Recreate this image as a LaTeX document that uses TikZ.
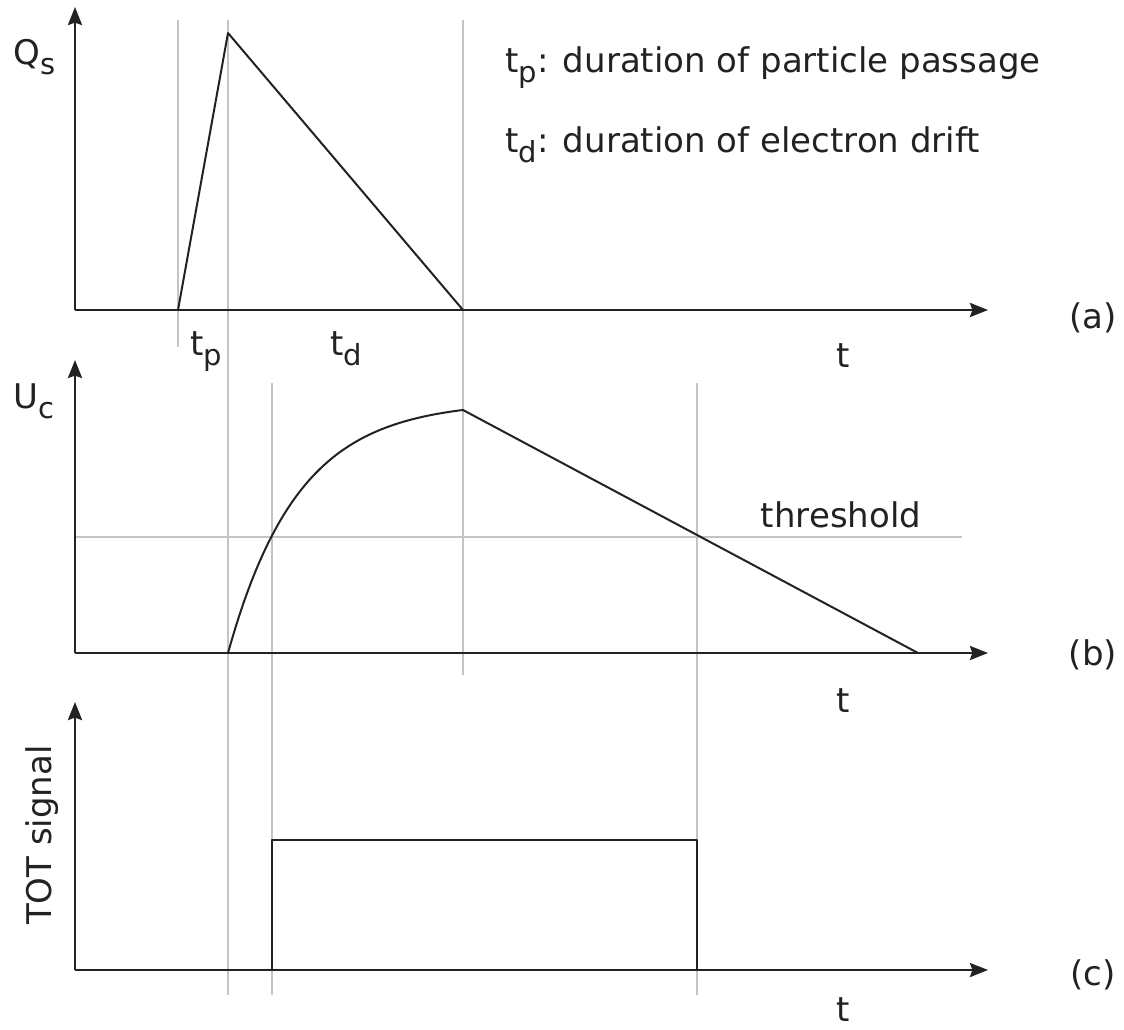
\documentclass[tikz,border=0pt]{standalone}
\usepackage{fontspec}
\setmainfont{DejaVu Sans}
\usetikzlibrary{arrows.meta}
\definecolor{TotInk}{HTML}{222222}
\definecolor{TotGuide}{HTML}{C4C4C4}
\newcommand{\sbs}[1]{\raisebox{-0.32em}{\fontsize{14.5pt}{14.5pt}\selectfont #1}}
\tikzset{
  axis/.style={-{Stealth[length=9pt,width=7pt,inset=1.2pt]}, line width=1.3pt, draw=TotInk},
  trace/.style={line width=1pt, draw=TotInk, line join=round},
  guide/.style={line width=0.7pt, draw=TotGuide},
  lbl/.style={inner sep=0pt, text=TotInk, font=\fontsize{17pt}{20pt}\selectfont},
}
\begin{document}
\begin{tikzpicture}[x=0.5pt,y=-0.5pt]
  \useasboundingbox (0,0) rectangle (1124,1029);
  % guide lines
  \draw[guide] (178,20) -- (178,347);
  \draw[guide] (228,20) -- (228,995);
  \draw[guide] (463,20) -- (463,675);
  \draw[guide] (272,383) -- (272,995);
  \draw[guide] (697,383) -- (697,995);
  \draw[guide] (75,537) -- (962,537);
  % axes
  \coordinate (oa) at (75,310);
  \coordinate (ya) at (75,7);
  \coordinate (xa) at (988,310);
  \coordinate (ob) at (75,653);
  \coordinate (yb) at (75,360);
  \coordinate (xb) at (988,653);
  \coordinate (oc) at (75,970);
  \coordinate (yc) at (75,702);
  \coordinate (xc) at (988,970);
  \draw[axis] (oa) -- (ya);
  \draw[axis] (oa) -- (xa);
  \draw[axis] (ob) -- (yb);
  \draw[axis] (ob) -- (xb);
  \draw[axis] (oc) -- (yc);
  \draw[axis] (oc) -- (xc);
  % (a) induced charge
  \coordinate (qstart) at (178,310);
  \coordinate (qpeak) at (228,33);
  \coordinate (qend) at (463,310);
  \draw[trace] (qstart) -- (qpeak) -- (qend);
  % (b) preamp output
  \coordinate (upeak) at (463,410);
  \coordinate (uend) at (918,653);
  \draw[trace] plot[domain=228:463,samples=60] (\x,{653-251.8*(1-exp(-(\x-228)/70))}) -- (upeak) -- (uend);
  % (c) TOT pulse
  \coordinate (ton) at (272,970);
  \coordinate (toff) at (697,970);
  \draw[trace] (ton) -- (272,840) -- (697,840) -- (toff);
  % labels
  \node[lbl,anchor=base west] (qs) at (13,64) {Q\sbs{s}};
  \node[lbl,anchor=base west] (uc) at (13,408) {U\sbs{c}};
  \node[lbl,anchor=base west] (legp) at (505,72) {t\sbs{p}: duration of particle passage};
  \node[lbl,anchor=base west] (legd) at (505,152) {t\sbs{d}: duration of electron drift};
  \node[lbl,anchor=base west] (tp) at (190,355) {t\sbs{p}};
  \node[lbl,anchor=base west] (td) at (330,355) {t\sbs{d}};
  \node[lbl,anchor=base] (ta) at (843,367) {t};
  \node[lbl,anchor=base] (pa) at (1093,328) {(a)};
  \node[lbl,anchor=base] (thr) at (841,527) {threshold};
  \node[lbl,anchor=base] (pb) at (1093,665) {(b)};
  \node[lbl,anchor=base] (tb) at (843,712) {t};
  \node[lbl,rotate=90] (tot) at (42,835) {TOT signal};
  \node[lbl,anchor=base] (pc) at (1093,985) {(c)};
  \node[lbl,anchor=base] (tc) at (843,1021) {t};
\end{tikzpicture}
\end{document}
